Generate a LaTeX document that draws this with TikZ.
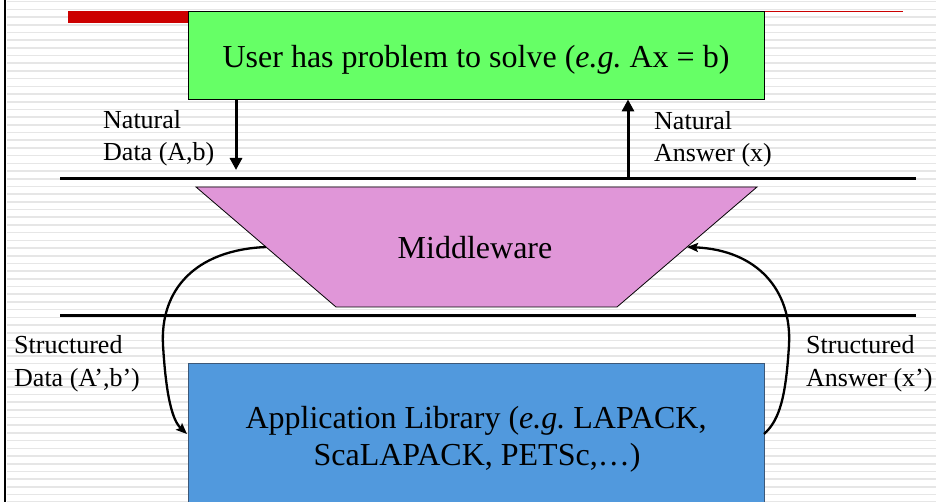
\documentclass[tikz,border=0pt]{standalone}
\usepackage{fontspec}
\setmainfont{Liberation Serif}
\usetikzlibrary{arrows.meta}
\definecolor{usergreen}{RGB}{102,255,102}
\definecolor{midpink}{RGB}{224,150,216}
\definecolor{libblue}{RGB}{81,153,221}
\definecolor{libedge}{RGB}{60,88,120}
\definecolor{barred}{RGB}{204,0,0}
\definecolor{stripegray}{RGB}{230,230,230}
\frenchspacing
\begin{document}
\begin{tikzpicture}[x=1pt,y=-1pt,
  bigtext/.style={font=\fontsize{32}{37}\selectfont, inner sep=0pt, anchor=base},
  labeltext/.style={font=\fontsize{26}{31}\selectfont, inner sep=0pt, anchor=base west},
  layerline/.style={line width=3pt},
  flowarrow/.style={line width=3pt, -{Triangle[width=12pt,length=12pt]}},
  curvearrow/.style={line width=2.3pt, -{Stealth[width=9pt,length=11pt,inset=2pt]}},
  boxedge/.style={draw, line width=0.9pt, inner sep=0pt}]
\useasboundingbox (0,0) rectangle (936,502);
\clip (0,0) rectangle (936,502);

% ruled background
\fill[white] (0,0) rectangle (936,502);
\foreach \i in {0,...,65}
  \fill[stripegray] (7,{0.9+7.7*\i}) rectangle (936,{2.5+7.7*\i});
\draw[line width=2.5pt] (5,0) -- (5,502);

% title rule
\fill[barred] (68,11) rectangle (190,23);
\draw[barred, line width=1pt] (188,11.5) -- (903,11.5);

% user box
\node[boxedge, fill=usergreen, minimum width=576pt, minimum height=88pt] (user) at (476,55) {};
\node[bigtext] (usertxt) at (476,68) {User has problem to solve (\textit{e.g.} Ax = b)};

% layer separators
\coordinate (sepAL) at (60,179);
\coordinate (sepAR) at (916,179);
\coordinate (sepBL) at (60,315.5);
\coordinate (sepBR) at (916,315.5);
\draw[layerline] (sepAL) -- (sepAR);
\draw[layerline] (sepBL) -- (sepBR);

% middleware trapezoid
\coordinate (mwTL) at (196,187);
\coordinate (mwTR) at (757,187);
\coordinate (mwBR) at (617,307);
\coordinate (mwBL) at (336,307);
\draw[fill=midpink, line width=0.8pt] (mwTL) -- (mwTR) -- (mwBR) -- (mwBL) -- cycle;
\node[bigtext] (mwtxt) at (475,259) {Middleware};
\coordinate (mwL) at (266,247);
\coordinate (mwR) at (687,247);

% application library box
\node[boxedge, draw=libedge, fill=libblue, minimum width=576pt, minimum height=150pt] (lib) at (476,438) {};
\node[bigtext] (libtxtA) at (476,428) {Application Library (\textit{e.g.} LAPACK,};
\node[bigtext] (libtxtB) at (477,465) {ScaLAPACK, PETSc,…)};
\coordinate (libL) at (187,434);
\coordinate (libR) at (764,434);

% natural data / answer
\coordinate (downEnd) at (236,170);
\coordinate (upStart) at (628,179);
\draw[flowarrow] (user.south -| downEnd) -- (downEnd);
\draw[flowarrow] (upStart) -- (user.south -| upStart);
\node[labeltext] (ndA) at (103,129) {Natural};
\node[labeltext] (ndB) at (103,161) {Data (A,b)};
\node[labeltext] (naA) at (654,130) {Natural};
\node[labeltext] (naB) at (654,161.5) {Answer (x)};

% structured data / answer
\draw[curvearrow] (mwL) .. controls (195,250) and (160,290) .. (163,345)
                        .. controls (166,395) and (172,420) .. (libL);
\draw[curvearrow] (libR) .. controls (780,420) and (786,395) .. (789,345)
                         .. controls (792,290) and (757,250) .. (mwR);
\node[labeltext] (sdA) at (14,353) {Structured};
\node[labeltext] (sdB) at (14,386) {Data (A’,b’)};
\node[labeltext] (saA) at (806,353) {Structured};
\node[labeltext] (saB) at (806,386) {Answer (x’)};
\end{tikzpicture}
\end{document}
